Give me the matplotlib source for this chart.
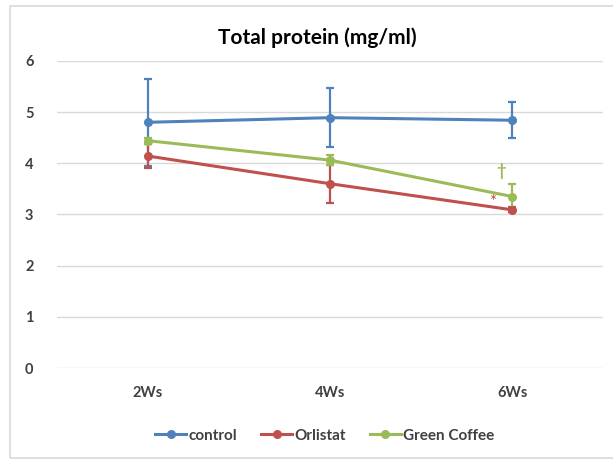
import matplotlib.pyplot as plt
from matplotlib.lines import Line2D
from matplotlib.patches import Rectangle

weeks = ['2Ws', '4Ws', '6Ws']
control = [4.80, 4.89, 4.84]
control_err = [0.85, 0.57, 0.35]
orlistat = [4.14, 3.60, 3.09]
orlistat_err = [0.24, 0.37, 0.05]
green_coffee = [4.44, 4.06, 3.35]
green_coffee_err = [0.06, 0.10, 0.25]

series = [
    ('control', control, control_err, '#4F81BD'),
    ('Orlistat', orlistat, orlistat_err, '#C0504D'),
    ('Green Coffee', green_coffee, green_coffee_err, '#9BBB59'),
]

plt.rcParams['font.family'] = ['Lato', 'DejaVu Sans']

fig = plt.figure(figsize=(6.13, 4.61), dpi=100)
ax = fig.add_axes([0.093, 0.2017, 0.891, 0.6663])

x = list(range(len(weeks)))
handles = []
for name, vals, err, col in series:
    ax.errorbar(x, vals, yerr=err, color=col, lw=2.2, marker='o', ms=5.5,
                elinewidth=1.6, capsize=3, capthick=1.6, zorder=3)
    handles.append(Line2D([], [], color=col, lw=2.2, marker='o', ms=5.5,
                          label=name))

# significance marks at 6Ws
ax.text(1.89, 3.25, '*', color='#C0504D', fontsize=12, ha='center', va='center')
ax.text(1.94, 3.84, '†', color='#9BBB59', fontsize=12, fontweight='bold',
        ha='center', va='center')

ax.set_xlim(-0.5, 2.5)
ax.set_ylim(0, 6)
ax.set_yticks(range(0, 7))
ax.set_xticks(x)
ax.set_xticklabels(weeks)
ax.grid(axis='y', color='#D9D9D9', lw=1)
ax.set_axisbelow(True)
for s in ax.spines.values():
    s.set_visible(False)
ax.tick_params(length=0, labelsize=10.5, colors='#404040', pad=13)
ax.tick_params(axis='y', pad=17)
for lbl in ax.get_xticklabels() + ax.get_yticklabels():
    lbl.set_fontweight('bold')

fig.text(0.518, 0.918, 'Total protein (mg/ml)', ha='center', va='center',
         fontsize=15, fontweight='bold', color='#000000')

leg = fig.legend(handles=handles, loc='center', bbox_to_anchor=(0.53, 0.055),
                 ncol=3, frameon=False, fontsize=11, handlelength=2.0,
                 columnspacing=1.6, handletextpad=0.15)
for t in leg.get_texts():
    t.set_fontweight('bold')
    t.set_color('#404040')

fig.patches.append(Rectangle((10 / 613, 3 / 461), 1.0, 452 / 461,
                             transform=fig.transFigure, fill=False,
                             edgecolor='#D9D9D9', lw=1.2))

fig.savefig('out.png', dpi=100)
